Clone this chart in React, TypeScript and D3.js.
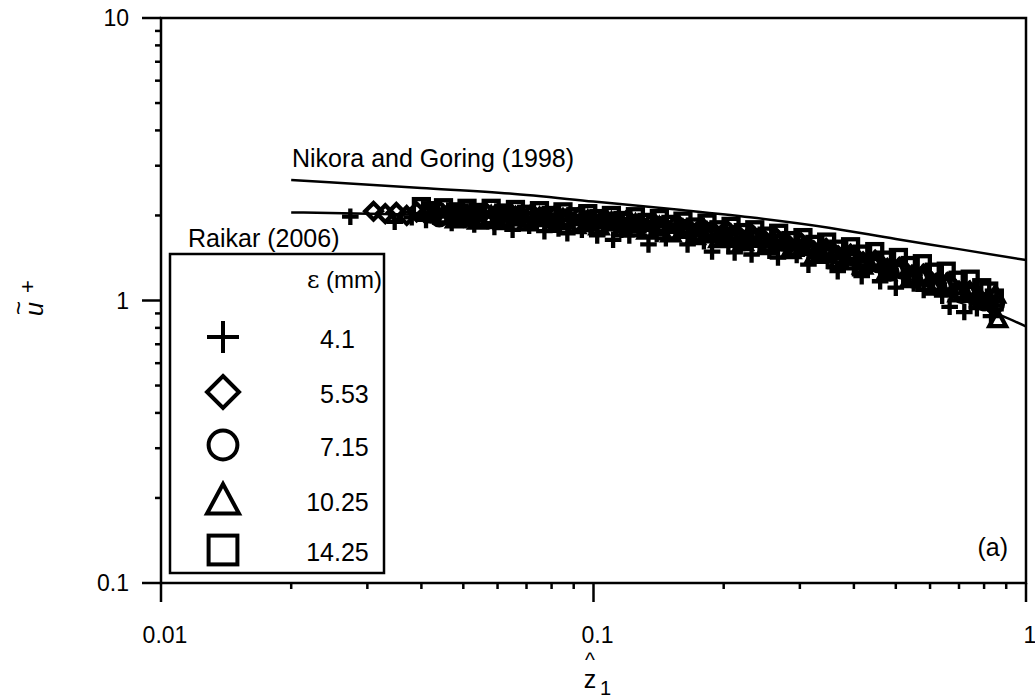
import React from 'react';
import * as d3 from 'd3';

// x tick labels / y tick labels
const xTickValues = [0.01, 0.1, 1];
const xTickLabels = ['0.01', '0.1', '1'];
const yTickValues = [0.1, 1, 10];
const yTickLabels = ['0.1', '1', '10'];

// Nikora and Goring (1998)
const nikoraX = [0.02, 0.04, 0.064, 0.1, 0.16, 0.23, 0.35, 0.5, 0.7, 1.0];
const nikoraY = [2.67, 2.5, 2.39, 2.24, 2.09, 1.97, 1.81, 1.65, 1.52, 1.39];

// Raikar (2006) fit
const raikarX = [0.02, 0.04, 0.06, 0.09, 0.135, 0.2, 0.28, 0.4, 0.5, 0.63, 0.78, 0.9, 1.0];
const raikarY = [2.05, 2.01, 1.97, 1.9, 1.79, 1.67, 1.53, 1.36, 1.24, 1.09, 0.95, 0.87, 0.81];

// eps = 4.1 mm (plus)
const plusX = [0.0274, 0.0347, 0.038, 0.041, 0.044, 0.047, 0.05, 0.053, 0.056, 0.059, 0.062, 0.065, 0.068, 0.071, 0.074, 0.077, 0.08, 0.083, 0.087, 0.09, 0.094, 0.098, 0.102, 0.106, 0.111, 0.116, 0.121, 0.127, 0.134, 0.14, 0.147, 0.155, 0.165, 0.172, 0.18, 0.188, 0.196, 0.205, 0.212, 0.222, 0.232, 0.242, 0.255, 0.267, 0.28, 0.295, 0.314, 0.33, 0.348, 0.367, 0.385, 0.4, 0.417, 0.435, 0.46, 0.48, 0.5, 0.52, 0.55, 0.58, 0.61, 0.64, 0.666, 0.69, 0.72, 0.745, 0.77, 0.8, 0.83, 0.85];
const plusY = [1.98, 1.9, 1.97, 1.93, 2.0, 1.88, 1.95, 1.86, 1.98, 1.82, 1.92, 1.78, 1.95, 1.84, 1.9, 1.76, 1.88, 1.8, 1.73, 1.92, 1.78, 1.86, 1.7, 1.82, 1.64, 1.78, 1.7, 1.8, 1.58, 1.72, 1.66, 1.76, 1.58, 1.7, 1.62, 1.49, 1.66, 1.56, 1.48, 1.6, 1.455, 1.56, 1.5, 1.42, 1.54, 1.45, 1.34, 1.46, 1.38, 1.27, 1.4, 1.3, 1.22, 1.33, 1.17, 1.27, 1.11, 1.22, 1.15, 1.09, 1.16, 1.04, 0.95, 1.06, 0.91, 1.0, 0.94, 0.98, 0.88, 0.93];

// eps = 5.53 mm (diamond)
const diamondX = [0.031, 0.033, 0.035, 0.037, 0.039, 0.041, 0.044, 0.047, 0.05, 0.053, 0.056, 0.06, 0.064, 0.068, 0.072, 0.077, 0.082, 0.087, 0.093, 0.099, 0.106, 0.113, 0.12, 0.128, 0.137, 0.146, 0.156, 0.167, 0.178, 0.19, 0.203, 0.217, 0.232, 0.248, 0.265, 0.283, 0.302, 0.323, 0.345, 0.368, 0.393, 0.42, 0.448, 0.478, 0.51, 0.545, 0.58, 0.62, 0.66, 0.7, 0.74, 0.78, 0.82];
const diamondY = [2.07, 2.03, 2.05, 2.0, 2.06, 2.02, 2.08, 2.0, 2.05, 1.98, 2.07, 2.0, 2.05, 1.96, 2.03, 1.97, 2.02, 1.94, 1.99, 1.91, 1.96, 1.88, 1.94, 1.86, 1.9, 1.82, 1.87, 1.78, 1.82, 1.74, 1.78, 1.69, 1.72, 1.64, 1.66, 1.57, 1.6, 1.5, 1.53, 1.44, 1.46, 1.37, 1.39, 1.3, 1.31, 1.23, 1.24, 1.15, 1.16, 1.08, 1.08, 1.01, 0.99];

// eps = 7.15 mm (circle)
const circleX = [0.042, 0.044, 0.047, 0.05, 0.053, 0.056, 0.06, 0.063, 0.067, 0.071, 0.076, 0.081, 0.086, 0.092, 0.098, 0.104, 0.111, 0.118, 0.126, 0.134, 0.143, 0.153, 0.163, 0.174, 0.186, 0.198, 0.211, 0.225, 0.24, 0.256, 0.273, 0.291, 0.31, 0.331, 0.353, 0.376, 0.4, 0.427, 0.455, 0.485, 0.517, 0.55, 0.586, 0.625, 0.666, 0.71, 0.755, 0.8, 0.85];
const circleY = [2.02, 1.96, 2.05, 1.95, 2.03, 1.94, 2.02, 1.93, 2.0, 1.92, 1.99, 1.9, 1.96, 1.88, 1.94, 1.86, 1.91, 1.83, 1.88, 1.79, 1.84, 1.75, 1.8, 1.71, 1.76, 1.67, 1.71, 1.62, 1.67, 1.58, 1.61, 1.52, 1.55, 1.46, 1.49, 1.4, 1.42, 1.33, 1.35, 1.26, 1.28, 1.19, 1.2, 1.12, 1.13, 1.05, 1.06, 0.99, 0.97];

// eps = 10.25 mm (triangle)
const triangleX = [0.045, 0.048, 0.051, 0.054, 0.058, 0.062, 0.066, 0.07, 0.075, 0.08, 0.085, 0.091, 0.097, 0.103, 0.11, 0.117, 0.125, 0.133, 0.142, 0.151, 0.161, 0.172, 0.183, 0.195, 0.208, 0.222, 0.236, 0.252, 0.268, 0.286, 0.305, 0.325, 0.346, 0.369, 0.393, 0.419, 0.447, 0.476, 0.507, 0.54, 0.576, 0.614, 0.654, 0.697, 0.743, 0.79, 0.82, 0.85, 0.86];
const triangleY = [2.0, 1.94, 2.01, 1.92, 1.99, 1.91, 1.97, 1.89, 1.96, 1.87, 1.94, 1.85, 1.92, 1.83, 1.89, 1.8, 1.86, 1.77, 1.82, 1.73, 1.78, 1.69, 1.74, 1.65, 1.7, 1.61, 1.66, 1.56, 1.61, 1.51, 1.55, 1.45, 1.49, 1.39, 1.43, 1.33, 1.36, 1.26, 1.29, 1.19, 1.22, 1.12, 1.14, 1.06, 1.07, 1.0, 1.02, 1.05, 0.86];

// eps = 14.25 mm (square)
const squareX = [0.04, 0.042, 0.045, 0.048, 0.051, 0.054, 0.058, 0.062, 0.066, 0.07, 0.075, 0.08, 0.085, 0.091, 0.097, 0.103, 0.11, 0.117, 0.125, 0.133, 0.142, 0.151, 0.161, 0.172, 0.183, 0.195, 0.208, 0.222, 0.236, 0.252, 0.268, 0.286, 0.305, 0.325, 0.346, 0.369, 0.393, 0.419, 0.447, 0.476, 0.507, 0.54, 0.576, 0.614, 0.654, 0.697, 0.743, 0.79, 0.82, 0.845];
const squareY = [2.15, 2.08, 2.13, 2.06, 2.12, 2.05, 2.12, 2.04, 2.1, 2.02, 2.08, 2.0, 2.06, 1.98, 2.03, 1.95, 2.0, 1.92, 1.98, 1.89, 1.95, 1.86, 1.91, 1.82, 1.88, 1.78, 1.83, 1.74, 1.78, 1.69, 1.73, 1.63, 1.67, 1.58, 1.61, 1.52, 1.55, 1.46, 1.49, 1.39, 1.42, 1.33, 1.35, 1.26, 1.27, 1.18, 1.19, 1.11, 1.08, 1.02];

const legendLabels = ['4.1', '5.53', '7.15', '10.25', '14.25'];
const legendShapes = ['plus', 'diamond', 'circle', 'triangle', 'square'];

const series = [
  { shape: 'plus', xs: plusX, ys: plusY },
  { shape: 'diamond', xs: diamondX, ys: diamondY },
  { shape: 'circle', xs: circleX, ys: circleY },
  { shape: 'triangle', xs: triangleX, ys: triangleY },
  { shape: 'square', xs: squareX, ys: squareY },
];

const FONT = 'Liberation Sans, Arial, sans-serif';

function Marker({ shape, cx, cy, s, sw }) {
  const common = { fill: 'none', stroke: '#000', strokeWidth: sw };
  if (shape === 'plus') {
    return <path d={`M${cx - s},${cy}H${cx + s}M${cx},${cy - s}V${cy + s}`} {...common} />;
  }
  if (shape === 'diamond') {
    return <path d={`M${cx},${cy - s}L${cx + s},${cy}L${cx},${cy + s}L${cx - s},${cy}Z`} {...common} />;
  }
  if (shape === 'circle') {
    return <circle cx={cx} cy={cy} r={s * 0.9} {...common} />;
  }
  if (shape === 'triangle') {
    return <path d={`M${cx},${cy - s}L${cx + s},${cy + s * 0.85}L${cx - s},${cy + s * 0.85}Z`} {...common} />;
  }
  return <rect x={cx - s * 0.9} y={cy - s * 0.9} width={s * 1.8} height={s * 1.8} {...common} />;
}

const App = () => {
  const width = 1035;
  const height = 699;
  const x = d3.scaleLog().domain([0.01, 1]).range([161, 1026]);
  const y = d3.scaleLog().domain([0.1, 10]).range([583, 18]);

  const line = d3.line<number[]>()
    .x(d => x(d[0]))
    .y(d => y(d[1]))
    .curve(d3.curveMonotoneX);

  const nikoraPath = line(nikoraX.map((v, i) => [v, nikoraY[i]]));
  const raikarPath = line(raikarX.map((v, i) => [v, raikarY[i]]));

  const xMinor = x.ticks().filter(t => !xTickValues.some(m => Math.abs(m - t) < 1e-9));
  const yMinor = y.ticks().filter(t => !yTickValues.some(m => Math.abs(m - t) < 1e-9));

  const [x0, x1] = x.range();
  const [yb, yt] = y.range();

  const legendRows = [337, 392, 445, 500, 550];

  return (
    <svg width={width} height={height} style={{ position: 'absolute', left: 0, top: 0, background: '#fff' }}
      fontFamily={FONT}>
      <rect width={width} height={height} fill="#fff" />

      {/* frame */}
      <rect x={x0} y={yt} width={x1 - x0} height={yb - yt} fill="none" stroke="#000" strokeWidth={2.5} />

      {/* y ticks */}
      {yTickValues.map((t, i) => (
        <g key={'yt' + i}>
          <line x1={x0 - 19} x2={x0} y1={y(t)} y2={y(t)} stroke="#000" strokeWidth={2.5} />
          <text x={129} y={y(t) + 8} fontSize={23} textAnchor="end">{yTickLabels[i]}</text>
        </g>
      ))}
      {yMinor.map((t, i) => (
        <line key={'ym' + i} x1={x0 - 6} x2={x0} y1={y(t)} y2={y(t)} stroke="#000" strokeWidth={2.5} />
      ))}

      {/* x ticks */}
      {xTickValues.map((t, i) => (
        <g key={'xt' + i}>
          <line x1={x(t)} x2={x(t)} y1={yb} y2={yb + 19} stroke="#000" strokeWidth={2.5} />
          <text x={x(t) + 4} y={643} fontSize={23} textAnchor="middle">{xTickLabels[i]}</text>
        </g>
      ))}
      {xMinor.map((t, i) => (
        <line key={'xm' + i} x1={x(t)} x2={x(t)} y1={yb} y2={yb + 6} stroke="#000" strokeWidth={2.5} />
      ))}

      {/* curves */}
      <path d={nikoraPath} fill="none" stroke="#000" strokeWidth={2.5} />
      <path d={raikarPath} fill="none" stroke="#000" strokeWidth={2.5} />

      {/* data */}
      {series.map(s => (
        <g key={s.shape}>
          {s.xs.map((v, i) => (
            <Marker key={i} shape={s.shape} cx={x(v)} cy={y(s.ys[i])} s={8.3} sw={4.3} />
          ))}
        </g>
      ))}

      {/* annotations */}
      <text x={292} y={167} fontSize={25}>Nikora and Goring (1998)</text>
      <text x={188} y={247} fontSize={25}>Raikar (2006)</text>
      <text x={1008} y={556} fontSize={25} textAnchor="end">(a)</text>

      {/* legend */}
      <rect x={170} y={254} width={214} height={319} fill="#fff" stroke="#000" strokeWidth={2.5} />
      <text x={382} y={288} fontSize={24} textAnchor="end">
        <tspan fontFamily="DejaVu Serif, serif">ε</tspan> (mm)
      </text>
      {legendLabels.map((lab, i) => {
        const [a, b] = lab.split('.');
        return (
          <g key={lab}>
            <Marker shape={legendShapes[i]} cx={223} cy={legendRows[i]} s={16} sw={4} />
            <text x={334} y={legendRows[i] + 11} fontSize={25} textAnchor="end">{a}</text>
            <text x={334} y={legendRows[i] + 11} fontSize={25}>.{b}</text>
          </g>
        );
      })}

      {/* y axis label */}
      <g transform="translate(43,316) rotate(-90)">
        <text x={0} y={0} fontSize={25} fontStyle="italic">u</text>
        <text x={1} y={-16} fontSize={24}>~</text>
        <text x={23} y={-8} fontSize={22}>+</text>
      </g>

      {/* x axis label */}
      <text x={590} y={667} fontSize={21} textAnchor="middle">^</text>
      <text x={590} y={688} fontSize={25} textAnchor="middle">z</text>
      <text x={600} y={695} fontSize={20}>1</text>
    </svg>
  );
};

export default App;
